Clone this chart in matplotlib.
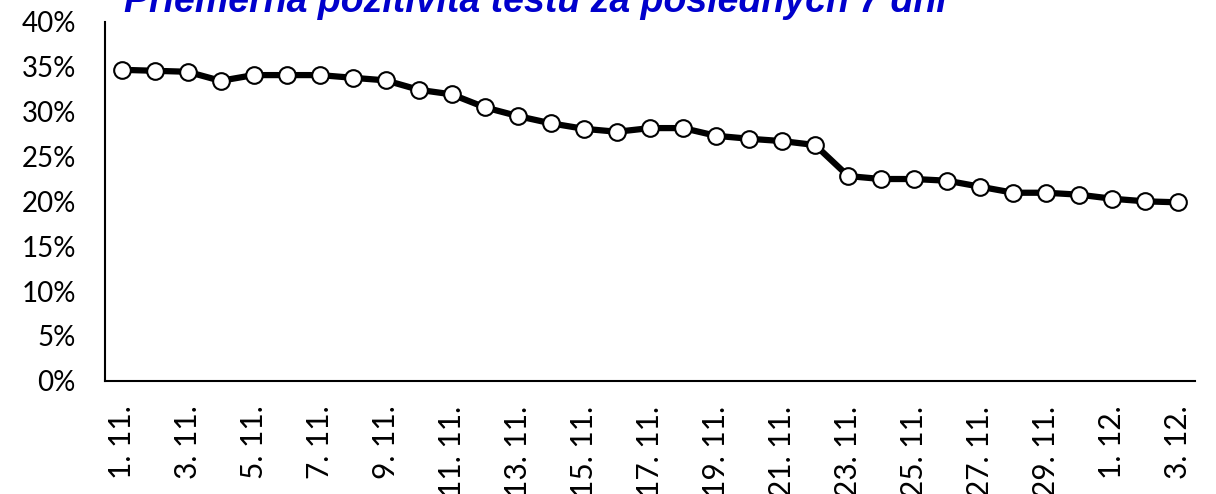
import matplotlib
matplotlib.use('Agg')
import matplotlib.pyplot as plt
from matplotlib.ticker import FuncFormatter

''' Data '''

days = ['%d. 11.' % d for d in range(1, 31)] + ['%d. 12.' % d for d in range(1, 4)]
positivity = [34.67, 34.56, 34.45, 33.44, 34.08, 34.08, 34.08, 33.78, 33.49,
              32.44, 31.93, 30.48, 29.51, 28.70, 28.09, 27.76, 28.17, 28.17,
              27.31, 26.98, 26.72, 26.28, 22.82, 22.49, 22.49, 22.30, 21.63,
              20.96, 20.96, 20.74, 20.29, 20.00, 19.89]
title = 'Priemerná pozitivita testu za posledných 7 dní'

plt.rcParams['font.family'] = ['Lato', 'DejaVu Sans']

fig = plt.figure(figsize=(12.16, 4.94), dpi=100)
ax = fig.add_axes([105 / 1216, 1 - 380.7 / 494, 1090 / 1216, 358.7 / 494])

x = list(range(len(days)))
ax.plot(x, positivity, color='black', lw=4.5, marker='o', ms=12,
        mfc='white', mec='black', mew=1.5, solid_joinstyle='round')

ax.set_xlim(-0.5, len(days) - 0.5)
ax.set_ylim(0, 40)
ax.set_yticks(range(0, 41, 5))
ax.yaxis.set_major_formatter(FuncFormatter(lambda v, p: '%d%%' % v))
ax.set_xticks(x[::2])
ax.set_xticklabels(days[::2], rotation=90, va='top', ha='center')

ax.tick_params(axis='both', length=0, labelsize=20)
ax.tick_params(axis='x', pad=18, labelsize=21.5)
ax.tick_params(axis='y', pad=21)

for s in ['top', 'right']:
    ax.spines[s].set_visible(False)
for s in ['left', 'bottom']:
    ax.spines[s].set_linewidth(1.5)

#title is mostly cut off at the top edge in the original
fig.text(0.44, 1 - 12 / 494, title, ha='center', va='baseline',
         fontsize=27, fontweight='bold', fontstyle='italic',
         color='#0000CC', family=['Liberation Sans', 'DejaVu Sans'])

fig.savefig('out.png', dpi=100)
